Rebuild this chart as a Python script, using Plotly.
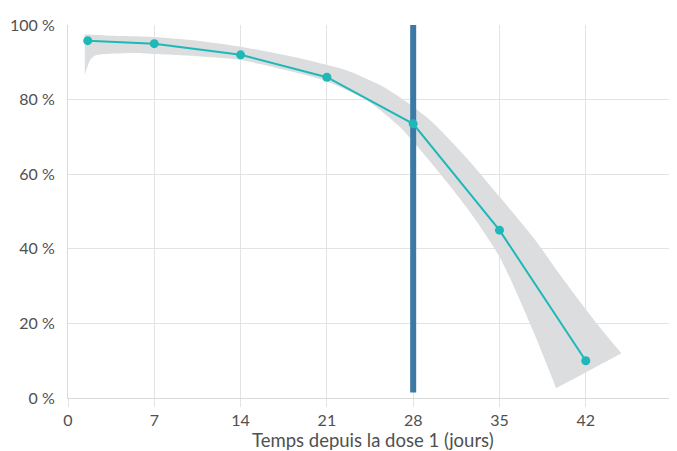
import plotly.graph_objects as go

# Data
days = [1.6, 7, 14, 21, 28, 35, 42]
efficacy = [95.8, 95.0, 92.0, 86.0, 73.5, 45.0, 10.0]

band_upper_x = [1.36, 3, 7, 10.5, 14, 18.8, 20.9, 22.9, 25.6, 27.7, 29.6, 32.3, 35, 37.7, 40.4, 43.1, 44.9]
band_upper_y = [97.5, 97.2, 96.8, 95.8, 94.2, 91.1, 89.4, 87.5, 83.4, 78.8, 73.8, 64.5, 54.0, 43.2, 30.8, 19.1, 12.0]
band_lower_x = [39.6, 37.7, 35, 32.3, 29.6, 26.9, 24.2, 20.9, 18.8, 14, 10.5, 7, 5.5, 3, 2.2, 1.8, 1.36]
band_lower_y = [2.6, 18.2, 37.9, 51.3, 62.5, 72.7, 79.9, 85.0, 87.0, 90.6, 91.6, 92.2, 92.5, 92.2, 91.8, 90.6, 86.6]

x_ticks = [0, 7, 14, 21, 28, 35, 42, 49]
x_tick_text = ["0", "7", "14", "21", "28", "35", "42", ""]
y_ticks = [0, 20, 40, 60, 80, 100]
y_tick_text = ["0 %", "20 %", "40 %", "60 %", "80 %", "100 %"]
x_title = "Temps depuis la dose 1 (jours)"
marker_day = 28

FONT = "Lato"
TXT = "#505050"

# polygon with duplicated corner points so the spline keeps sharp corners
poly_x = ([band_upper_x[0]] + band_upper_x + [band_upper_x[-1]]
          + [band_lower_x[0]] + band_lower_x + [band_lower_x[-1], band_upper_x[0]])
poly_y = ([band_upper_y[0]] + band_upper_y + [band_upper_y[-1]]
          + [band_lower_y[0]] + band_lower_y + [band_lower_y[-1], band_upper_y[0]])

fig = go.Figure()

fig.add_trace(go.Scatter(
    x=poly_x, y=poly_y,
    fill="toself", fillcolor="#dcdddf", line=dict(width=0, shape="spline", smoothing=0.7),
    mode="lines", hoverinfo="skip", showlegend=False,
))

fig.add_trace(go.Scatter(
    x=[marker_day, marker_day], y=[1.5, 100],
    mode="lines", line=dict(color="#3b7aa6", width=6),
    hoverinfo="skip", showlegend=False,
))

fig.add_trace(go.Scatter(
    x=days, y=efficacy, mode="lines+markers",
    line=dict(color="#1fb8b8", width=2),
    marker=dict(color="#1fb8b8", size=9),
    showlegend=False,
))

# the page body adds an 8px offset, so the figure is sized to fit the 677x451 window
fig.update_layout(
    width=669, height=443,
    margin=dict(l=60, r=0, t=17, b=53),
    paper_bgcolor="white", plot_bgcolor="white",
    font=dict(family=FONT, size=16, color=TXT),
    xaxis=dict(
        range=[0, 49.4], tickvals=x_ticks, ticktext=x_tick_text,
        showgrid=True, gridcolor="#e3e3e3", gridwidth=1,
        showline=True, linecolor="#d9d9d9", linewidth=1,
        ticks="outside", ticklen=8, tickcolor="#e3e3e3",
        zeroline=False, automargin=False,
    ),
    yaxis=dict(
        range=[0, 100], tickvals=y_ticks, ticktext=y_tick_text,
        showgrid=True, gridcolor="#e3e3e3", gridwidth=1,
        showline=True, linecolor="#d9d9d9", linewidth=1,
        zeroline=False, ticks="", ticklabelstandoff=9, automargin=False,
    ),
    annotations=[dict(
        text=x_title, xref="paper", yref="paper", x=0.5, y=0,
        yshift=-42, yanchor="middle", showarrow=False,
        font=dict(size=18.5, color=TXT),
    )],
)

fig.write_html("out.html")
